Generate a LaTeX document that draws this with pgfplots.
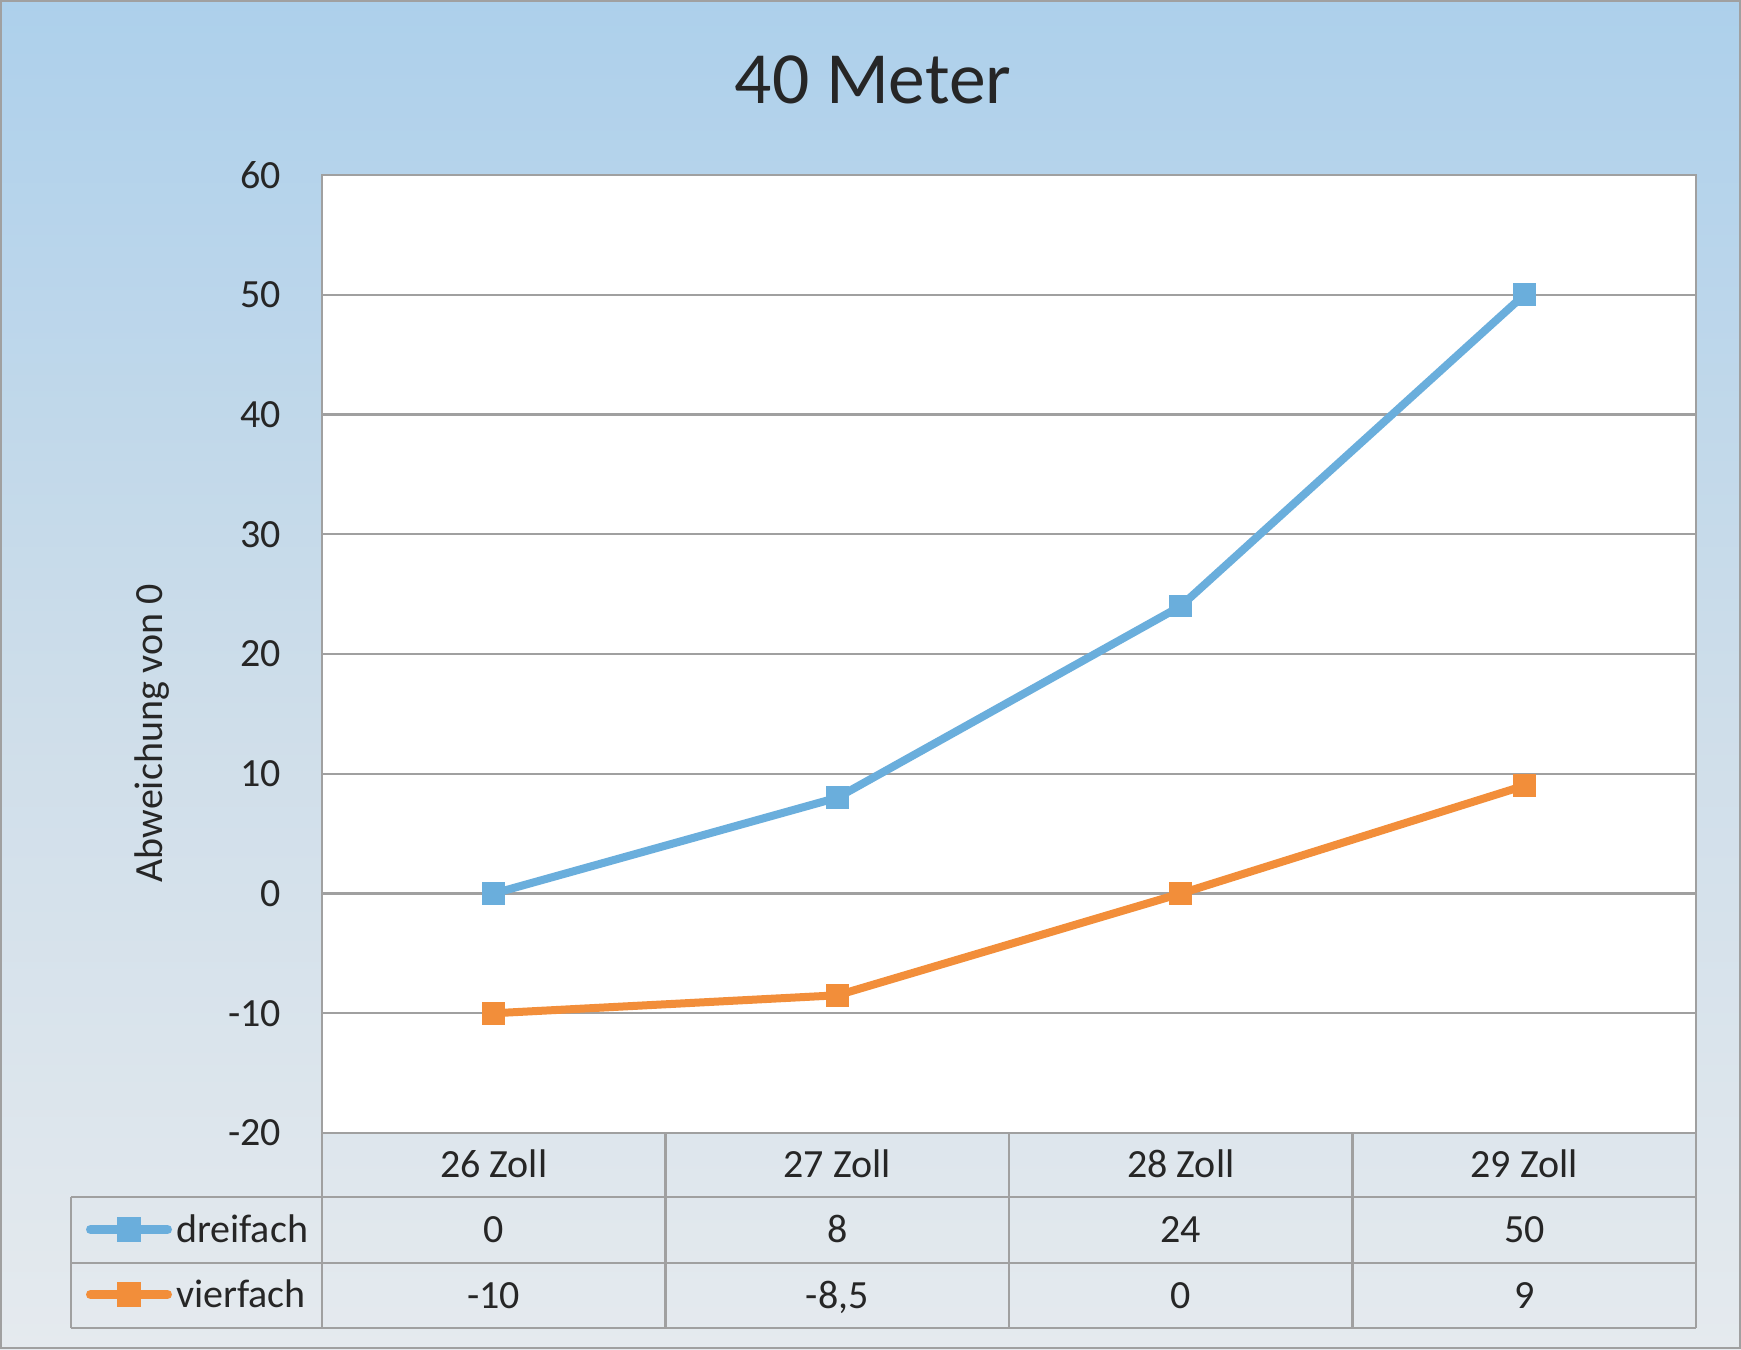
\documentclass[border=0pt]{standalone}
\usepackage{pgfplots}
\pgfplotsset{compat=1.18}
\usepackage{fontspec}
\setmainfont{Carlito}
\definecolor{blueS}{RGB}{106,174,220}
\definecolor{orangeS}{RGB}{242,142,58}
\definecolor{gridgray}{RGB}{160,160,160}
\definecolor{textc}{RGB}{38,38,38}
\definecolor{bgtop}{RGB}{173,208,235}
\definecolor{bgmid}{RGB}{207,222,234}
\definecolor{bgbot}{RGB}{229,234,238}
\pgfdeclareverticalshading{bgshade}{100bp}{color(0bp)=(bgbot); color(25bp)=(bgbot); color(48bp)=(bgmid); color(75bp)=(bgtop); color(100bp)=(bgtop)}
\begin{document}
\begin{tikzpicture}
\useasboundingbox (0,0) rectangle (435.25pt,337.25pt);
\shade[shading=bgshade] (0,0) rectangle (435.25pt,337.25pt);
\draw[color=gridgray, line width=0.5pt] (0.25pt,0.25pt) rectangle (435pt,337pt);
\node[anchor=base, inner sep=0pt, text=textc, font=\fontsize{18.4}{22}\selectfont] at (218.25pt,311.25pt) {40 Meter};
\begin{axis}[
  at={(80.5pt,54pt)}, anchor=south west,
  width=343.5pt, height=239.5pt, scale only axis,
  xmin=-0.5, xmax=3.5, ymin=-20, ymax=60,
  xtick={0,1,2,3}, xticklabels={26 Zoll,27 Zoll,28 Zoll,29 Zoll},
  ytick={-20,-10,0,10,20,30,40,50,60},
  yticklabels={-20,-10,0,10,20,30,40,50,60},
  major tick length=0pt, tick style={draw=none},
  ymajorgrids, grid style={color=gridgray, line width=0.55pt},
  axis line style={color=gridgray, line width=0.7pt},
  axis background/.style={fill=white},
  clip=false,
  ticklabel style={font=\fontsize{10}{12}\selectfont, text=textc, inner sep=0pt},
  yticklabel style={anchor=east, xshift=-10pt},
  xticklabel style={anchor=base, yshift=-11.125pt},
  ylabel={Abweichung von 0},
  every axis y label/.style={at={(axis description cs:-0.1237,0.4175)}, rotate=90, anchor=center, inner sep=0pt, font=\fontsize{10}{12}\selectfont, text=textc},
  legend style={at={(axis description cs:-0.17467,-0.06681)}, anchor=north west, draw=none, fill=none, inner sep=0pt, outer sep=0pt, row sep=0pt, /tikz/column sep=0pt,
    nodes={inner sep=0pt, anchor=base west, text height=11.25pt, text depth=5pt, font=\fontsize{10}{12}\selectfont, text=textc}},
  legend cell align=left,
  legend image code/.code={%
    \path (0pt,0pt) (21.5pt,6pt);
    \draw[#1, line width=2.25pt, line cap=round] (1.125pt,3.125pt) -- (20.375pt,3.125pt);
    \fill[#1, mark size=2.9pt] plot[only marks] coordinates {(10.75pt,3.125pt)};
  },
]
\addplot[color=blueS, line width=2pt, line join=round, mark=square*, mark size=2.7pt, mark options={draw=none, line width=0pt, fill=blueS}]
  coordinates {(0,0) (1,8) (2,24) (3,50)};
\addlegendentry{dreifach}
\addplot[color=orangeS, line width=2pt, line join=round, mark=square*, mark size=2.7pt, mark options={draw=none, line width=0pt, fill=orangeS}]
  coordinates {(0,-10) (1,-8.5) (2,0) (3,9)};
\addlegendentry{vierfach}
\end{axis}
% data table grid
\begin{scope}[color=gridgray, line width=0.7pt]
\draw (17.75pt,38pt) -- (424pt,38pt);
\draw (17.75pt,21.5pt) -- (424pt,21.5pt);
\draw (17.75pt,5.25pt) -- (424pt,5.25pt);
\draw (17.75pt,5.25pt) -- (17.75pt,38pt);
\foreach \xx in {80.5,166.375,252.25,338.125,424} {\draw (\xx pt,5.25pt) -- (\xx pt,54pt);}
\end{scope}
\begin{scope}[every node/.style={anchor=base, inner sep=0pt, text=textc, font=\fontsize{10}{12}\selectfont}]
\node at (123.4375pt,26.625pt) {0};
\node at (209.3125pt,26.625pt) {8};
\node at (295.1875pt,26.625pt) {24};
\node at (381.0625pt,26.625pt) {50};
\node at (123.4375pt,10.25pt) {-10};
\node at (209.3125pt,10.25pt) {-8,5};
\node at (295.1875pt,10.25pt) {0};
\node at (381.0625pt,10.25pt) {9};
\end{scope}
\end{tikzpicture}
\end{document}
